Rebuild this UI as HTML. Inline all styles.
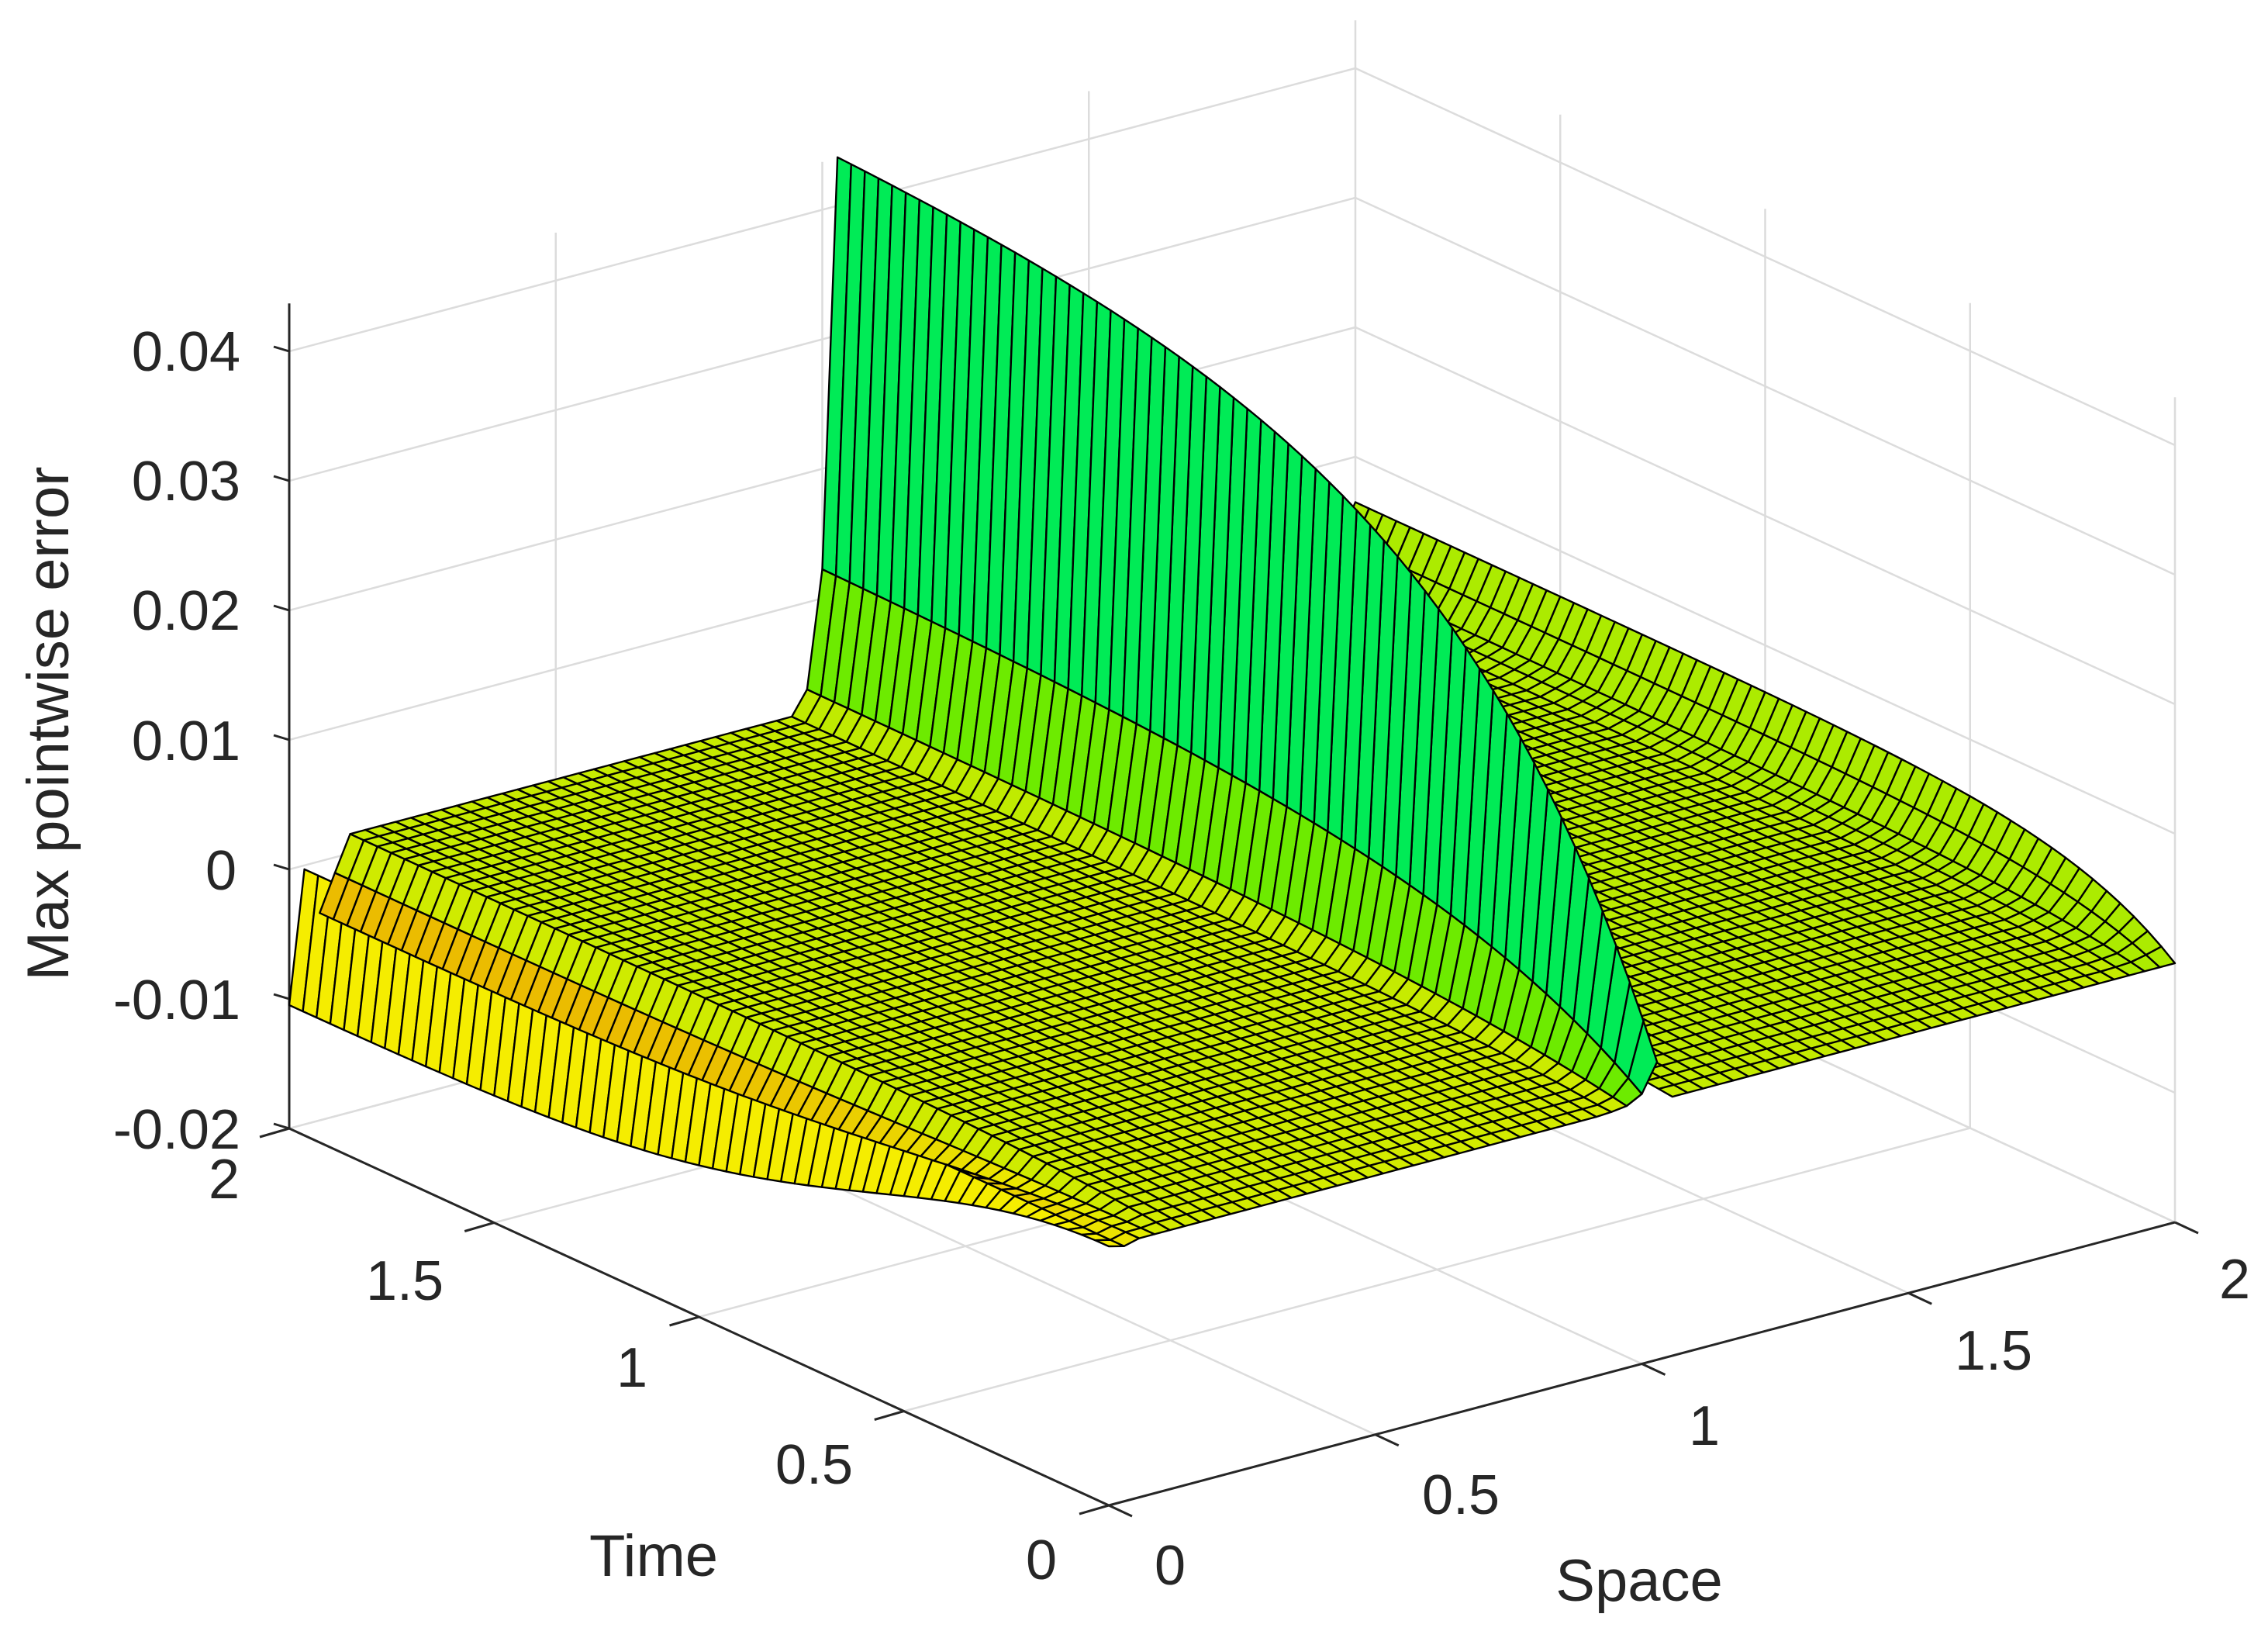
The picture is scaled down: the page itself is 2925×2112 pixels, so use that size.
<!DOCTYPE html>
<html><head><meta charset="utf-8"><style>
html,body{margin:0;padding:0;background:#fff;}
svg{display:block;}
text{font-family:"Liberation Sans",Arial,sans-serif;fill:#262626;}
</style></head><body>
<svg id="s" xmlns="http://www.w3.org/2000/svg" width="2925" height="2112" viewBox="0 0 2925 2112">
<g id="grid" stroke="#dcdcdc" stroke-width="2.5" fill="none"></g>
<g id="axes" stroke="#262626" stroke-width="3" fill="none"></g>
<g id="surf" stroke="#000" stroke-width="2.4" stroke-linejoin="round"></g>
<g font-size="72">
<text x="310" y="478" text-anchor="end">0.04</text>
<text x="310" y="645" text-anchor="end">0.03</text>
<text x="310" y="812" text-anchor="end">0.02</text>
<text x="310" y="980" text-anchor="end">0.01</text>
<text x="305" y="1147" text-anchor="end">0</text>
<text x="310" y="1314" text-anchor="end">-0.01</text>
<text x="310" y="1481" text-anchor="end">-0.02</text>
<text x="289" y="1545" text-anchor="middle">2</text>
<text x="522" y="1676" text-anchor="middle">1.5</text>
<text x="815" y="1788" text-anchor="middle">1</text>
<text x="1050" y="1913" text-anchor="middle">0.5</text>
<text x="1343" y="2036" text-anchor="middle">0</text>
<text x="1509" y="2043" text-anchor="middle">0</text>
<text x="1884" y="1952" text-anchor="middle">0.5</text>
<text x="2198" y="1863" text-anchor="middle">1</text>
<text x="2571" y="1766" text-anchor="middle">1.5</text>
<text x="2882" y="1674" text-anchor="middle">2</text>
</g>
<text x="843" y="2032" font-size="76" text-anchor="middle">Time</text>
<text x="2114" y="2064" font-size="76" text-anchor="middle">Space</text>
<text x="0" y="0" font-size="76" text-anchor="middle" transform="translate(88,933) rotate(-90)">Max pointwise error</text>
</svg>
<script>
(function(){
const P=(s,t,z)=>[1430+687.5*s-528.5*t, 1941-182.5*s-243*t-16700*(z+0.02)];
const f=(p)=>p[0].toFixed(1)+','+p[1].toFixed(1);
let g='',a='';
const ZT=0.0437;
for(let k=-2;k<=4;k++){const z=k*0.01;
 g+=`<polyline points="${f(P(0,2,z))} ${f(P(2,2,z))} ${f(P(2,0,z))}"/>`;}
[[0.5,2],[1,2],[1.5,2],[2,2],[2,1.5],[2,1],[2,0.5],[2,0]].forEach(([s,t])=>{
 g+=`<line x1="${P(s,t,-0.02)[0]}" y1="${P(s,t,-0.02)[1]}" x2="${P(s,t,ZT)[0]}" y2="${P(s,t,ZT)[1]}"/>`;});
[0.5,1,1.5,2].forEach(v=>{
 g+=`<line x1="${P(v,0,-0.02)[0]}" y1="${P(v,0,-0.02)[1]}" x2="${P(v,2,-0.02)[0]}" y2="${P(v,2,-0.02)[1]}"/>`;
 g+=`<line x1="${P(0,v,-0.02)[0]}" y1="${P(0,v,-0.02)[1]}" x2="${P(2,v,-0.02)[0]}" y2="${P(2,v,-0.02)[1]}"/>`;});
document.getElementById('grid').innerHTML=g;
const L=(p,q)=>`<line x1="${p[0]}" y1="${p[1]}" x2="${q[0]}" y2="${q[1]}"/>`;
a+=L(P(0,2,-0.02),P(0,2,ZT));
a+=L(P(0,0,-0.02),P(0,2,-0.02));
a+=L(P(0,0,-0.02),P(2,0,-0.02));
for(let k=-2;k<=4;k++){const p=P(0,2,k*0.01);a+=L(p,[p[0]-20,p[1]-6]);}
for(let k=0;k<=4;k++){const t=k*0.5;const p=P(0,t,-0.02);a+=L(p,[p[0]-38,p[1]+11]);
 const q=P(t,0,-0.02);a+=L(q,[q[0]+30,q[1]+14]);}
document.getElementById('axes').innerHTML=a;
const Ns=70,Nt=60,FI=36;
const Z=[];
for(let i=0;i<=Ns;i++){Z.push([]);
 for(let j=0;j<=Nt;j++){const t=2*j/Nt;
  let z=0.0015*(1-Math.exp(-t/0.4));
  const A=0.0415*(1-Math.exp(-t/0.5))+0.003;
  const B=0.0065*(1-Math.exp(-t/0.25));
  const F=1-Math.exp(-Math.pow(t/0.8,2));
  const C=-0.0105*F;
  if(i==FI)z=A; else if(i==FI-1)z=0.28*A; else if(i==FI-2)z=Math.max(z,0.075*A); else if(i==FI-3)z=Math.max(z,0.025*A);
  if(i==Ns)z=B; else if(i==Ns-1)z=0.55*B+0.3*z; else if(i==Ns-2)z=0.18*B+0.7*z; else if(i==Ns-3)z+=0.05*B;
  if(i==0)z=C; else if(i==1)z=-0.0003; else if(i==2)z=-0.004*F; else if(i==3)z=-0.0012*F;
  Z[i].push(z);}}
const faces=[];
const hue=(z)=>z>=0?66+Math.min(z,0.044)/0.044*78:66+z/0.011*30;
for(let i=0;i<Ns;i++)for(let j=0;j<Nt;j++){
 const s0=2*i/Ns,s1=2*(i+1)/Ns,t0=2*j/Nt,t1=2*(j+1)/Nt;
 const zs=[Z[i][j],Z[i+1][j],Z[i+1][j+1],Z[i][j+1]];
 const za=(zs[0]+zs[1]+zs[2]+zs[3])/4;
 const sc=(s0+s1)/2,tc=(t0+t1)/2;
 const d=88260*sc+114812*tc-263513*(za/0.01);
 const pts=[P(s0,t0,zs[0]),P(s1,t0,zs[1]),P(s1,t1,zs[2]),P(s0,t1,zs[3])];
 let ar=0;for(let k=0;k<4;k++){const p=pts[k],q=pts[(k+1)%4];ar+=p[0]*q[1]-q[0]*p[1];}
 if(ar>0)continue;
 let h,l=46;
 if(i==0){h=58;l=48;}
 else if(i==1){h=58-28*(1-Math.exp(-Math.pow(tc/0.7,2)));}
 else if(i==2){h=62-14*(1-Math.exp(-Math.pow(tc/0.7,2)));}
 else if(i==FI-1){h=142;l=46;}
 else if(i==FI-2){h=92;}
 else {h=hue(Math.max(zs[0],zs[1],zs[2],zs[3])*0.5+za*0.5);
   if(i>=Ns-3)h=Math.max(h,76);
   if(i>FI&&i<Ns-3)h=h+4;}
 faces.push([d,`<path d="M${f(pts[0])}L${f(pts[1])}L${f(pts[2])}L${f(pts[3])}Z" fill="hsl(${h.toFixed(0)},100%,${l}%)"/>`]);}
faces.sort((x,y)=>y[0]-x[0]);
document.getElementById('surf').innerHTML=faces.map(x=>x[1]).join('');
})();
</script>
</body></html>
